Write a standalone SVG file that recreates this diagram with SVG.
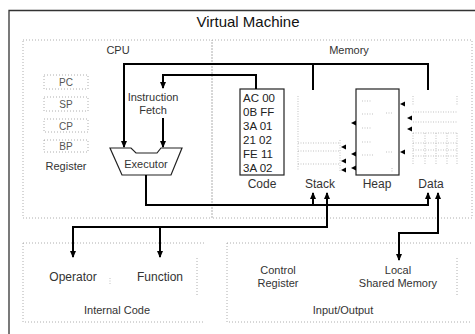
<svg xmlns="http://www.w3.org/2000/svg" width="475" height="334" viewBox="0 0 475 334">
  <style>
    text { font-family: "Liberation Sans", Arial, sans-serif; fill: #333; }
    .title { font-size: 15px; text-anchor: middle; fill: #111; }
    .lbl { font-size: 11px; text-anchor: middle; }
    .big { font-size: 12px; text-anchor: middle; }
    .reg { font-size: 10px; text-anchor: middle; fill: #555; }
    .code { font-size: 11.5px; fill: #222; }
    .frame { fill: none; stroke: #333; stroke-width: 1.3; }
    .dot { fill: none; stroke: #999; stroke-width: 0.8; stroke-dasharray: 1 2; }
    .fine { fill: none; stroke: #999; stroke-width: 0.6; stroke-dasharray: 1 1.5; }
    .box { fill: #fff; stroke: #222; stroke-width: 1.2; }
    .wire { fill: none; stroke: #000; stroke-width: 2; stroke-linejoin: miter; }
    .tip { fill: #000; }
  </style>
  <defs>
    <marker id="arrow" viewBox="0 0 7 6" refX="6" refY="3" markerWidth="7" markerHeight="6" markerUnits="userSpaceOnUse" orient="auto-start-reverse">
      <path d="M0,0 L7,3 L0,6 z" fill="#000"/>
    </marker>
    <path id="lt" d="M0,0 L5,-2.5 L5,2.5 z"/>
  </defs>

  <rect width="475" height="334" fill="#fff"/>

  <!-- outer frame -->
  <g id="vm">
    <path class="frame" d="M9,334 V10.5 H475"/>
    <text class="title" x="248" y="27">Virtual Machine</text>
  </g>

  <!-- CPU area -->
  <g id="cpu">
    <rect class="dot" x="23" y="40" width="189" height="178"/>
    <text class="lbl" x="118" y="54">CPU</text>
  </g>

  <!-- Memory area -->
  <g id="memory">
    <rect class="dot" x="212" y="40" width="260" height="178"/>
    <text class="lbl" x="349" y="54">Memory</text>
  </g>

  <!-- register file -->
  <g id="register">
    <rect class="dot" x="44" y="75" width="44" height="14"/>
    <text class="reg" x="66" y="86">PC</text>
    <rect class="dot" x="44" y="97" width="44" height="14"/>
    <text class="reg" x="66" y="108">SP</text>
    <rect class="dot" x="44" y="119" width="44" height="13"/>
    <text class="reg" x="66" y="129.5">CP</text>
    <rect class="dot" x="44" y="140" width="44" height="12"/>
    <text class="reg" x="66" y="150">BP</text>
    <text class="lbl" x="66" y="170">Register</text>
  </g>

  <!-- instruction fetch -->
  <g id="fetch">
    <text class="lbl" x="153" y="101">Instruction</text>
    <text class="lbl" x="153" y="114">Fetch</text>
  </g>

  <!-- executor -->
  <g id="executor">
    <polygon class="box" points="110,148 131,148 136,153 157,153 161,148 182,148 171,175 122,175"/>
    <text class="lbl" x="146" y="168">Executor</text>
  </g>

  <!-- code segment -->
  <g id="code">
    <rect class="box" x="240" y="89" width="44" height="86"/>
    <text class="code" x="243" y="102">AC 00</text>
    <text class="code" x="243" y="116">0B FF</text>
    <text class="code" x="243" y="130">3A 01</text>
    <text class="code" x="243" y="144">21 02</text>
    <text class="code" x="243" y="158">FE 11</text>
    <text class="code" x="243" y="172">3A 02</text>
    <text class="big" x="262" y="188">Code</text>
  </g>

  <!-- stack segment -->
  <g id="stack">
    <path class="fine" d="M298,96 V170 M298,143 H340 M298,151 H340 M298,164 H340 M340,140 V172"/>
    <use href="#lt" x="341" y="147" class="tip"/>
    <use href="#lt" x="341" y="161" class="tip"/>
    <use href="#lt" x="341" y="170" class="tip"/>
    <text class="big" x="320" y="188">Stack</text>
  </g>

  <!-- heap segment -->
  <g id="heap">
    <rect class="box" x="356" y="89" width="43" height="86"/>
    <path class="fine" d="M362,101 H372 M362,114 H374 M362,128 H372 M362,142 H372 M362,155 H374 M386,113 H393 M386,152 H393 M392,168 V172"/>
    <use href="#lt" x="351" y="123" class="tip"/>
    <use href="#lt" x="351" y="154" class="tip"/>
    <use href="#lt" x="351" y="168" class="tip"/>
    <use href="#lt" x="400" y="104" class="tip"/>
    <use href="#lt" x="400" y="152" class="tip"/>
    <text class="big" x="377" y="188">Heap</text>
  </g>

  <!-- data segment -->
  <g id="data">
    <path class="fine" d="M413,112 H457 M413,122 H457 M413,133 H457 M413,143 H457 M413,150 H457 M413,156 H457 M413,133 V165 M425,133 V165 M436,133 V165 M447,133 V165 M457,133 V165 M413,96 V106 M457,96 V106"/>
    <use href="#lt" x="407" y="118" class="tip"/>
    <use href="#lt" x="407" y="129" class="tip"/>
    <text class="big" x="431" y="188">Data</text>
  </g>

  <!-- internal code area -->
  <g id="internal-code">
    <path class="dot" d="M23,243 H205 M23,243 V322 H205 M197,258 V295"/>
    <path class="fine" d="M110,278 V284"/>
    <text class="big" x="73" y="281">Operator</text>
    <text class="big" x="160" y="281">Function</text>
    <text class="lbl" x="117" y="314">Internal Code</text>
  </g>

  <!-- input/output area -->
  <g id="input-output">
    <path class="dot" d="M227,243 H472 M227,243 V322 H472 M457,258 V296"/>
    <text class="lbl" x="278" y="274">Control</text>
    <text class="lbl" x="278" y="287">Register</text>
    <text class="lbl" x="398" y="274">Local</text>
    <text class="lbl" x="398" y="287">Shared Memory</text>
    <text class="lbl" x="343" y="314">Input/Output</text>
  </g>

  <!-- connectors -->
  <g id="connectors">
    <!-- memory bus into executor -->
    <path class="wire" d="M428,90 V64 H124 V147" marker-end="url(#arrow)"/>
    <path class="wire" d="M313,64 V90"/>
    <!-- code to fetch to executor -->
    <path class="wire" d="M256,89 V75 H163 V88" marker-end="url(#arrow)"/>
    <path class="wire" d="M163,118 V147" marker-end="url(#arrow)"/>
    <!-- executor results to stack and data -->
    <path class="wire" d="M146,175 V205 H428 V193" marker-end="url(#arrow)"/>
    <path class="wire" d="M313,205 V193" marker-end="url(#arrow)"/>
    <!-- stack to internal code -->
    <path class="wire" d="M73,257 V227 H327 V193" marker-start="url(#arrow)" marker-end="url(#arrow)"/>
    <path class="wire" d="M160,227 V257" marker-end="url(#arrow)"/>
    <!-- data to local shared memory -->
    <path class="wire" d="M438,193 V233 H399 V260" marker-start="url(#arrow)" marker-end="url(#arrow)"/>
  </g>
</svg>
